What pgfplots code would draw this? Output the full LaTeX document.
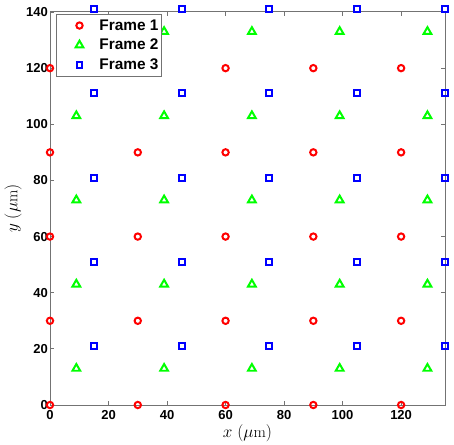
\documentclass[border=0pt]{standalone}
\usepackage{pgfplots}
\pgfplotsset{compat=1.18}
\usepackage{fontspec}
\newfontfamily\hel{Liberation Sans}
\begin{document}
\begin{tikzpicture}
\begin{axis}[
  scale only axis,
  width=395bp, height=393bp,
  xmin=0, xmax=135, ymin=0, ymax=140,
  xtick={0,20,...,120}, ytick={0,20,...,140},
  tick align=inside,
  major tick length=4bp,
  axis line style={black!55, line width=1pt},
  every tick/.style={black!55, line width=0.8pt},
  /pgf/number format/assume math mode=true,
  tick label style={font=\hel\bfseries\fontsize{13bp}{15bp}\selectfont},
  xticklabel style={yshift=-1.5bp},
  yticklabel style={xshift=1.3bp},
  every axis x label/.style={at={(axis description cs:0.5,0)}, yshift=-28bp, anchor=center},
  every axis y label/.style={at={(axis description cs:0,0.5)}, xshift=-37bp, rotate=90, anchor=center},
  xlabel={$x\ (\mu\mathrm{m})$},
  ylabel={$y\ (\mu\mathrm{m})$},
  label style={font=\fontsize{16bp}{18bp}\selectfont},
  clip=false,
  legend style={at={(rel axis cs:0,1)}, xshift=6bp, yshift=-2bp, anchor=north west,
    draw=black!55, line width=1pt,
    font=\hel\bfseries\fontsize{15.4bp}{17bp}\selectfont, row sep=3.5bp, inner xsep=1bp, inner ysep=3bp},
  legend cell align=left,
  legend image code/.code={\path (0,0) (38bp,0); \draw[#1] plot coordinates {(21bp,0)};},
]
\path (rel axis cs:0,0) ++(-50bp,-40bp);
\path (rel axis cs:1,1) ++(9bp,12bp);
\addplot[only marks, mark=o, red, line width=2pt, mark size=3.2pt] coordinates {
(0,0)(0,30)(0,60)(0,90)(0,120)
(30,0)(30,30)(30,60)(30,90)(30,120)
(60,0)(60,30)(60,60)(60,90)(60,120)
(90,0)(90,30)(90,60)(90,90)(90,120)
(120,0)(120,30)(120,60)(120,90)(120,120)};
\addlegendentry{Frame 1}
\addplot[only marks, mark=triangle, green, line width=2pt, mark size=4.5pt] coordinates {
(9,13)(9,43)(9,73)(9,103)(9,133)
(39,13)(39,43)(39,73)(39,103)(39,133)
(69,13)(69,43)(69,73)(69,103)(69,133)
(99,13)(99,43)(99,73)(99,103)(99,133)
(129,13)(129,43)(129,73)(129,103)(129,133)};
\addlegendentry{Frame 2}
\addplot[only marks, mark=square, blue, line width=2pt, mark size=3pt] coordinates {
(15,21)(15,51)(15,81)(15,111)(15,141)
(45,21)(45,51)(45,81)(45,111)(45,141)
(75,21)(75,51)(75,81)(75,111)(75,141)
(105,21)(105,51)(105,81)(105,111)(105,141)
(135,21)(135,51)(135,81)(135,111)(135,141)};
\addlegendentry{Frame 3}
\end{axis}
\end{tikzpicture}
\end{document}
